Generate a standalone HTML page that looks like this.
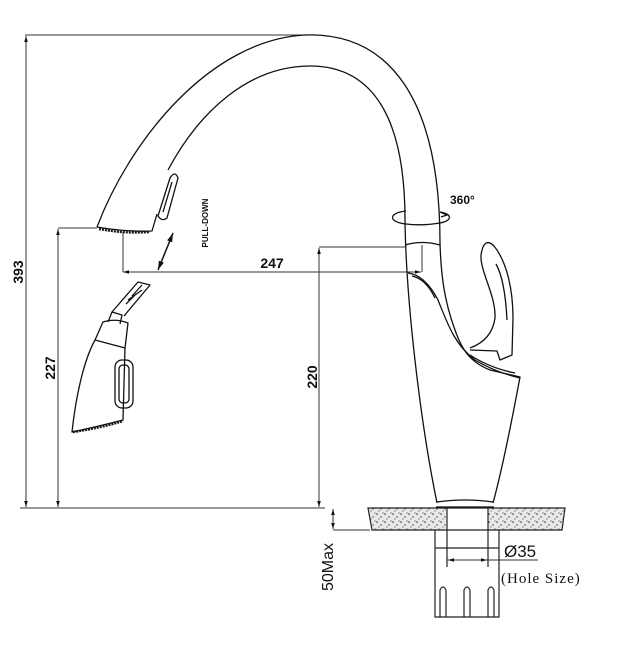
<!DOCTYPE html>
<html><head><style>
html,body{margin:0;padding:0;background:#fff;}
svg{display:block;}
text{font-family:"Liberation Sans",sans-serif;font-weight:bold;fill:#111;}
</style></head><body>
<svg width="619" height="645" viewBox="0 0 619 645" xmlns="http://www.w3.org/2000/svg">
<defs>
<marker id="a" viewBox="0 0 10 10" refX="10" refY="5" markerWidth="6" markerHeight="6" orient="auto-start-reverse"><path d="M0,2 L10,5 L0,8 z" fill="#111"/></marker>
<pattern id="spk" width="8" height="8" patternUnits="userSpaceOnUse">
<rect width="8" height="8" fill="#e8e8e8"/><circle cx="1" cy="2" r="0.8" fill="#333"/><circle cx="5" cy="5" r="0.7" fill="#444"/><circle cx="3" cy="7" r="0.6" fill="#555"/><circle cx="7" cy="1" r="0.6" fill="#555"/>
</pattern>
</defs>
<g stroke="#333" stroke-width="1" fill="none">
<line x1="25" y1="35" x2="305" y2="35"/>
<line x1="26" y1="36" x2="26" y2="507" marker-start="url(#a)" marker-end="url(#a)"/>
<line x1="20" y1="508" x2="325" y2="508"/>
<line x1="58" y1="228" x2="97" y2="228"/>
<line x1="58" y1="229" x2="58" y2="507" marker-start="url(#a)" marker-end="url(#a)"/>
<line x1="319" y1="247" x2="405" y2="247"/>
<line x1="319" y1="248" x2="319" y2="507" marker-start="url(#a)" marker-end="url(#a)"/>
<line x1="123" y1="232" x2="123" y2="272"/>
<line x1="422" y1="245" x2="422" y2="272"/>
<line x1="123" y1="272" x2="421" y2="272" marker-start="url(#a)" marker-end="url(#a)"/>
<line x1="333" y1="509" x2="333" y2="529" marker-start="url(#a)" marker-end="url(#a)"/>
<line x1="333" y1="530" x2="370" y2="530"/>
</g>
<path d="M368,508 L447,508 L447,530 L372,530 Z" fill="url(#spk)" stroke="#222" stroke-width="1.2"/>
<path d="M488,508 L565,508 L562,530 L488,530 Z" fill="url(#spk)" stroke="#222" stroke-width="1.2"/>
<g stroke="#222" stroke-width="1.2" fill="none">
<line x1="447" y1="508" x2="488" y2="508"/>
<line x1="447" y1="530" x2="488" y2="530"/>
<path d="M435,530 L435,617 L499,617 L499,530"/>
<line x1="447" y1="530" x2="447" y2="567"/>
<line x1="488" y1="530" x2="488" y2="567"/>
<line x1="435" y1="548" x2="499" y2="548"/>
<path d="M440,617 V590 Q443,584 446,590 V617"/>
<path d="M464,617 V590 Q467,584 470,590 V617"/>
<path d="M488,617 V590 Q491,584 494,590 V617"/>
</g>
<g stroke="#333" stroke-width="1" fill="none">
<line x1="447" y1="560" x2="538" y2="560" />
<line x1="448" y1="560" x2="487" y2="560" marker-start="url(#a)" marker-end="url(#a)"/>
</g>
<g stroke="#111" stroke-width="1.3" fill="none" stroke-linejoin="round">
<path d="M97,227 C130,140 210,40 305,35 C390,32 440,100 440,243 C441,275 444,300 455,330 C462,350 470,362 490,370 L520,377 C512,420 502,470 493,503"/>
<path d="M168,170 C200,110 250,66 310,66 C380,66 405,130 405,220 C406,300 420,420 437,503"/>
<path d="M97,227 Q125,232 152,231 L157,214"/>
<path d="M99,229 Q125,234 150,232" stroke-width="2.2" stroke-dasharray="2 1"/>
<path d="M158,216 L170,178 Q175,170 178,178 L167,218 Q162,222 158,216Z"/>
<path d="M163,212 L172,182"/>
<path d="M405,245 Q422,240 440,245"/>
<path d="M408,273 Q425,275 438,300 C448,325 455,345 475,360 Q495,372 520,378"/>
<path d="M412,276 Q426,279 435,298"/>
<path d="M470,355 Q490,368 515,373"/>
<path d="M470,348 Q492,340 495,318 C496,295 480,272 481,255 Q484,236 494,246 C507,262 513,290 513,318 L512,355 L500,360 L497,351 L470,350"/>
<path d="M496,264 Q505,280 507,320"/>
<path d="M437,502 Q465,498 493,502"/>
<line x1="436" y1="507" x2="494" y2="507"/>
<path d="M406,211 C388,213 388,222 406,224"/>
<path d="M406,224 Q422,226 440,223 C452,221 453,214 440,212"/>
<path d="M440,212 L447,215 L441,217" />
<path d="M72,432 C76,395 84,360 95,340 L125,348 L123,420 Q100,426 72,432Z"/>
<path d="M73,432 Q100,428 123,421" stroke-width="2.5" stroke-dasharray="2 1"/>
<path d="M95,340 L103,322 Q115,318 128,323 L125,348"/>
<path d="M108,322 L112,312 L122,315 L120,324"/>
<path d="M112,312 L138,282 L150,285 L124,316"/>
<path d="M128,300 L142,290 M132,296 L142,285 M126,304 L136,294"/>
<rect x="115" y="360" width="18" height="48" rx="7"/>
<rect x="119" y="365" width="10" height="38" rx="4"/>
<line x1="158" y1="270" x2="173" y2="233" stroke-width="1.5" marker-start="url(#a)" marker-end="url(#a)"/>
</g>
<text transform="translate(23,272) rotate(-90)" font-size="14" text-anchor="middle">393</text>
<text transform="translate(55,368) rotate(-90)" font-size="14" text-anchor="middle">227</text>
<text transform="translate(317,377) rotate(-90)" font-size="14" text-anchor="middle">220</text>
<text x="272" y="268" font-size="14" text-anchor="middle">247</text>
<text x="450" y="204" font-size="12">360°</text>
<text transform="translate(208,223) rotate(-90)" font-size="8" text-anchor="middle">PULL-DOWN</text>
<text transform="translate(333,567) rotate(-90)" font-size="16" text-anchor="middle" style="font-weight:normal">50Max</text>
<text x="504" y="557" font-size="17" style="font-weight:normal">Ø35</text>
<text x="501" y="583" font-size="15" letter-spacing="1" style="font-weight:normal;font-family:'Liberation Serif',serif">(Hole Size)</text>
</svg>
</body></html>
